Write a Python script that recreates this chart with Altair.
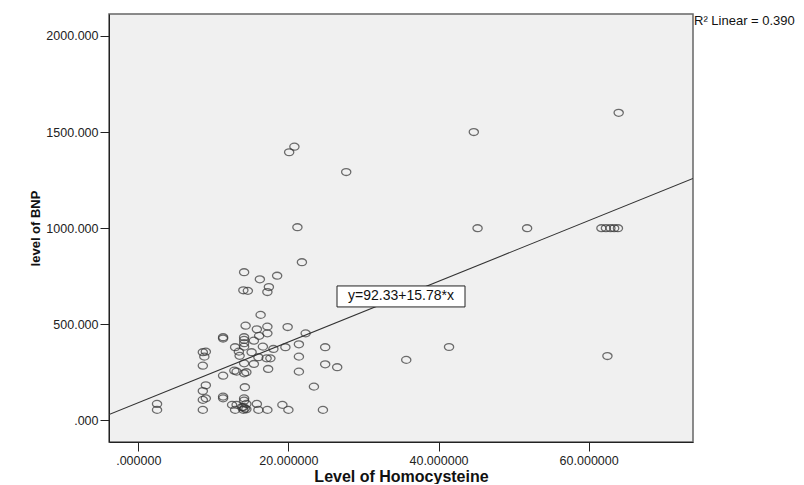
import altair as alt
import pandas as pd

# Level of Homocysteine (x) and level of BNP (y)
hcy = [2.5, 2.5,
       8.6, 9.0, 8.8, 8.6, 9.0, 8.6, 9.0, 8.6, 8.6,
       11.3, 11.3, 11.3, 11.3, 11.3,
       12.5, 13.1, 12.9, 12.9, 12.8, 13.1, 13.4, 13.5,
       13.8, 14.0, 14.4, 14.4, 14.1, 14.1, 14.2, 14.1, 14.4, 14.1,
       14.1, 14.1, 14.1, 14.1, 14.1, 14.0, 14.6, 14.3, 14.2, 14.0,
       15.1, 15.4, 15.4, 15.8, 15.8, 16.0, 16.0, 16.2, 16.3, 16.1, 16.6,
       17.1, 17.6, 17.3, 17.2, 17.2, 17.2, 17.4, 17.2,
       18.0, 18.5, 19.2, 19.6, 19.9, 20.0,
       20.1, 20.8, 21.2, 21.8, 21.4, 21.4, 21.4, 22.3,
       23.4, 24.6, 24.9, 24.9, 26.5, 27.7,
       35.7, 41.4, 44.7, 45.2, 51.8,
       61.7, 62.3, 62.9, 63.4, 63.9, 62.5, 64.0]
bnp = [86, 55,
       355, 358, 332, 285, 183, 153, 115, 107, 55,
       433, 426, 233, 124, 115,
       81, 81, 55, 381, 259, 254, 358, 336,
       69, 55, 58, 86, 115, 103, 173, 245, 251, 297,
       433, 419, 402, 384, 771, 677, 674, 493, 62, 70,
       355, 415, 294, 86, 474, 55, 329, 734, 549, 440, 384,
       323, 323, 268, 55, 488, 453, 694, 668,
       372, 753, 81, 381, 486, 55,
       1395, 1424, 1005, 823, 396, 332, 254, 453,
       176, 55, 381, 292, 277, 1292,
       315, 382, 1500, 1000, 1000,
       1000, 1000, 1000, 1000, 1000, 335, 1600]

x_ticks = [0, 20, 40, 60]
y_ticks = [0, 500, 1000, 1500, 2000]
x_domain = [-3.9, 73.9]
y_domain = [-112, 2114]

intercept = 92.33
slope = 15.78
eq_label = "y=92.33+15.78*x"
eq_anchor = [35.0, 645.0]
r2_label = "R\u00b2 Linear = 0.390"

FONT = "Liberation Sans"

pts = pd.DataFrame({"x": hcy, "y": bnp})
fit = pd.DataFrame({"x": x_domain, "y": [intercept + slope * v for v in x_domain]})
eq = pd.DataFrame({"x": [eq_anchor[0]], "y": [eq_anchor[1]], "t": [eq_label]})
r2 = pd.DataFrame({"x": [x_domain[1]], "y": [y_domain[1]], "t": [r2_label]})

xs = alt.Scale(domain=x_domain, nice=False, zero=False)
ys = alt.Scale(domain=y_domain, nice=False, zero=False)

x_axis = alt.Axis(values=x_ticks, title="Level of Homocysteine", grid=False,
                  labelExpr="datum.value == 0 ? '.000000' : format(datum.value, '.6f')",
                  labelFont=FONT, labelFontSize=12.5, labelColor="#222",
                  titleFont=FONT, titleFontSize=16, titleFontWeight="bold", titleColor="#111",
                  tickSize=9, tickColor="#222", domainColor="#222", labelPadding=3, titlePadding=2)
y_axis = alt.Axis(values=y_ticks, title="level of BNP", grid=False,
                  labelExpr="datum.value == 0 ? '.000' : format(datum.value, '.3f')",
                  labelFont=FONT, labelFontSize=12.5, labelColor="#222",
                  titleFont=FONT, titleFontSize=13, titleFontWeight="bold", titleColor="#111",
                  tickSize=9, tickColor="#222", domainColor="#222", labelPadding=2, titlePadding=3)

ellipse = "M-1,0A1,0.75,0,1,0,1,0A1,0.75,0,1,0,-1,0Z"

points = alt.Chart(pts).mark_point(shape=ellipse, size=85, filled=False,
                                   stroke="#333", strokeWidth=1.3).encode(
    x=alt.X("x:Q", scale=xs, axis=x_axis),
    y=alt.Y("y:Q", scale=ys, axis=y_axis),
)

line = alt.Chart(fit).mark_line(color="#333", strokeWidth=1.1, clip=True).encode(
    x=alt.X("x:Q", scale=xs), y=alt.Y("y:Q", scale=ys))

box = alt.Chart(eq).mark_point(shape="M-1,-0.164H1V0.164H-1Z", size=16384, filled=True,
                               fill="white", stroke="#222", strokeWidth=1, opacity=1).encode(
    x=alt.X("x:Q", scale=xs), y=alt.Y("y:Q", scale=ys))
eq_text = alt.Chart(eq).mark_text(font=FONT, fontSize=14, color="#111").encode(
    x=alt.X("x:Q", scale=xs), y=alt.Y("y:Q", scale=ys), text="t:N")

r2_text = alt.Chart(r2).mark_text(font=FONT, fontSize=13, color="#111", align="left",
                                  baseline="top", dx=1, dy=1).encode(
    x=alt.X("x:Q", scale=xs), y=alt.Y("y:Q", scale=ys), text="t:N")

chart = alt.layer(line, points, box, eq_text, r2_text).properties(
    width=584, height=428,
    autosize=alt.AutoSizeParams(type="none"),
    padding={"left": 101, "top": 6, "right": 103, "bottom": 42},
    background="white",
).configure_view(fill="#f0f0f0", stroke="#666", strokeWidth=1.5)

chart.save("out.html", embed_options={"renderer": "svg", "actions": False})
